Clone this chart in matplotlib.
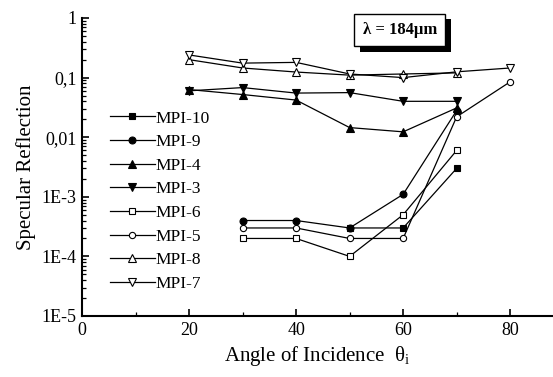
import matplotlib
matplotlib.use("Agg")
import matplotlib.pyplot as plt
import matplotlib.patheffects as pe
from matplotlib.ticker import FixedLocator, FixedFormatter, LogLocator, NullFormatter
import numpy as np

plt.rcParams['font.family'] = ['Liberation Serif', 'DejaVu Serif']
plt.rcParams['mathtext.fontset'] = 'custom'
plt.rcParams['mathtext.rm'] = 'Liberation Serif'

# data
x_mpi10 = [50, 60, 70]
y_mpi10 = [3e-4, 3e-4, 3e-3]
x_mpi9 = [30, 40, 50, 60, 70]
y_mpi9 = [4e-4, 4e-4, 3e-4, 1.1e-3, 0.028]
x_mpi4 = [20, 30, 40, 50, 60, 70]
y_mpi4 = [0.063, 0.052, 0.042, 0.0145, 0.0123, 0.031]
x_mpi3 = [20, 30, 40, 50, 60, 70]
y_mpi3 = [0.06, 0.068, 0.055, 0.056, 0.04, 0.04]
x_mpi6 = [30, 40, 50, 60, 70]
y_mpi6 = [2e-4, 2e-4, 1e-4, 5e-4, 0.006]
x_mpi5 = [30, 40, 50, 60, 70, 80]
y_mpi5 = [3e-4, 3e-4, 2e-4, 2e-4, 0.022, 0.085]
x_mpi8 = [20, 30, 40, 50, 60, 70]
y_mpi8 = [0.2, 0.145, 0.124, 0.11, 0.115, 0.12]
x_mpi7 = [20, 30, 40, 50, 60, 70, 80]
y_mpi7 = [0.24, 0.175, 0.18, 0.115, 0.10, 0.125, 0.145]

ytick_vals = [1e-5, 1e-4, 1e-3, 1e-2, 1e-1, 1]
ytick_labels = ['1E-5', '1E-4', '1E-3', '0,01', '0,1', '1']
xtick_vals = [0, 20, 40, 60, 80]

series = [
    ('MPI-10', x_mpi10, y_mpi10, 's', 'k', 5.0),
    ('MPI-9', x_mpi9, y_mpi9, 'o', 'k', 5.0),
    ('MPI-4', x_mpi4, y_mpi4, '^', 'k', 6.0),
    ('MPI-3', x_mpi3, y_mpi3, 'v', 'k', 6.0),
    ('MPI-6', x_mpi6, y_mpi6, 's', 'w', 4.5),
    ('MPI-5', x_mpi5, y_mpi5, 'o', 'w', 4.5),
    ('MPI-8', x_mpi8, y_mpi8, '^', 'w', 6.0),
    ('MPI-7', x_mpi7, y_mpi7, 'v', 'w', 6.0),
]

fig = plt.figure(figsize=(5.53, 3.77), dpi=100)
ax = fig.add_axes([82 / 553, 1 - 316 / 377, 471 / 553, 298 / 377])

for name, xs, ys, mk, fc, ms in series:
    ax.plot(xs, ys, color='k', lw=0.9, marker=mk, ms=ms, mfc=fc, mec='k',
            mew=0.8, label=name)

ax.set_yscale('log')
ax.set_ylim(1e-5, 1)
ax.set_xlim(0, 88)

ax.yaxis.set_major_locator(FixedLocator(ytick_vals))
ax.yaxis.set_major_formatter(FixedFormatter(ytick_labels))
ax.yaxis.set_minor_locator(LogLocator(base=10, subs=np.arange(2, 10), numticks=20))
ax.yaxis.set_minor_formatter(NullFormatter())
ax.set_xticks(xtick_vals)
ax.set_xticks([10, 30, 50, 70], minor=True)

for s in ['top', 'right']:
    ax.spines[s].set_visible(False)
for s in ['left', 'bottom']:
    ax.spines[s].set_linewidth(1.5)

ax.tick_params(which='major', direction='in', length=5, width=1.2, labelsize=13, pad=4)
ax.tick_params(which='minor', direction='in', length=3, width=0.9)

ax.set_ylabel('Specular Reflection', fontsize=15, labelpad=4)
ax.set_xlabel(r'Angle of Incidence  θ$_\mathregular{i}$', fontsize=15, labelpad=4)

leg = ax.legend(loc='upper left', bbox_to_anchor=(0.059, 0.69), frameon=False,
                fontsize=12.5, handlelength=2.6, handletextpad=0.05,
                labelspacing=0.43, numpoints=1, borderpad=0, borderaxespad=0)

t = ax.text(0.675, 0.96, 'λ = 184μm', transform=ax.transAxes, ha='center',
            va='center', fontsize=12, fontweight='bold',
            bbox=dict(boxstyle='square,pad=0.5', fc='w', ec='k', lw=1))
t.get_bbox_patch().set_path_effects([
    pe.withSimplePatchShadow(offset=(4, -4), shadow_rgbFace='k', alpha=1)])

fig.savefig('out.png', dpi=100)
